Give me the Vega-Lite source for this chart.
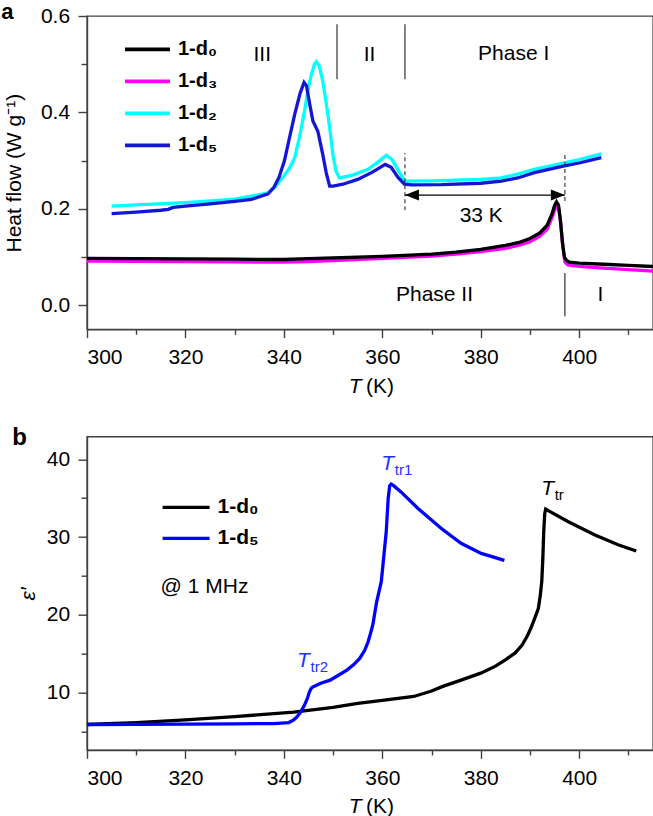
{
  "$schema": "https://vega.github.io/schema/vega-lite/v6.json",
  "padding": {"left": 0, "top": 0, "right": 0, "bottom": 0},
  "bounds": "flush",
  "spacing": 106.7,
  "config": {
    "font": "Liberation Sans",
    "view": {"stroke": "#404040", "strokeWidth": 1.4},
    "axis": {"domainColor": "#404040", "domainWidth": 1.4, "tickColor": "#404040", "tickWidth": 1.4, "labelFontSize": 21, "labelColor": "#000000", "labelFont": "Liberation Sans", "titleFont": "Liberation Sans", "titleFontSize": 21, "titleFontWeight": "normal", "titleColor": "#000000", "grid": false, "labelPadding": 8.4}
  },
  "resolve": {"scale": {"color": "independent", "y": "independent", "x": "independent"}, "legend": {"color": "independent"}},
  "datasets": {
    "dsc": [
      {"T":300,"v":0.0914,"s":"1-d₃"},{"T":310,"v":0.091,"s":"1-d₃"},{"T":320,"v":0.0905,"s":"1-d₃"},{"T":330,"v":0.0898,"s":"1-d₃"},{"T":340,"v":0.0893,"s":"1-d₃"},{"T":345,"v":0.0905,"s":"1-d₃"},{"T":350,"v":0.0925,"s":"1-d₃"},{"T":360,"v":0.097,"s":"1-d₃"},{"T":370,"v":0.102,"s":"1-d₃"},{"T":375,"v":0.106,"s":"1-d₃"},{"T":380,"v":0.111,"s":"1-d₃"},{"T":385,"v":0.118,"s":"1-d₃"},{"T":388,"v":0.125,"s":"1-d₃"},{"T":390,"v":0.1315,"s":"1-d₃"},{"T":392,"v":0.143,"s":"1-d₃"},{"T":393.5,"v":0.158,"s":"1-d₃"},{"T":394.5,"v":0.182,"s":"1-d₃"},{"T":395,"v":0.197,"s":"1-d₃"},{"T":395.5,"v":0.2056,"s":"1-d₃"},{"T":395.9,"v":0.198,"s":"1-d₃"},{"T":396.3,"v":0.165,"s":"1-d₃"},{"T":396.7,"v":0.12,"s":"1-d₃"},{"T":397.1,"v":0.09,"s":"1-d₃"},{"T":397.6,"v":0.0845,"s":"1-d₃"},{"T":398,"v":0.083,"s":"1-d₃"},{"T":400,"v":0.0805,"s":"1-d₃"},{"T":405,"v":0.077,"s":"1-d₃"},{"T":410,"v":0.0738,"s":"1-d₃"},{"T":415,"v":0.0706,"s":"1-d₃"},
      {"T":300,"v":0.097,"s":"1-d₀"},{"T":310,"v":0.0965,"s":"1-d₀"},{"T":320,"v":0.096,"s":"1-d₀"},{"T":330,"v":0.0955,"s":"1-d₀"},{"T":340,"v":0.0948,"s":"1-d₀"},{"T":345,"v":0.0965,"s":"1-d₀"},{"T":350,"v":0.098,"s":"1-d₀"},{"T":360,"v":0.1015,"s":"1-d₀"},{"T":370,"v":0.106,"s":"1-d₀"},{"T":375,"v":0.11,"s":"1-d₀"},{"T":380,"v":0.1157,"s":"1-d₀"},{"T":385,"v":0.124,"s":"1-d₀"},{"T":388,"v":0.131,"s":"1-d₀"},{"T":390,"v":0.1385,"s":"1-d₀"},{"T":392,"v":0.15,"s":"1-d₀"},{"T":393.5,"v":0.166,"s":"1-d₀"},{"T":394.5,"v":0.19,"s":"1-d₀"},{"T":395,"v":0.207,"s":"1-d₀"},{"T":395.4,"v":0.2145,"s":"1-d₀"},{"T":395.8,"v":0.208,"s":"1-d₀"},{"T":396.2,"v":0.175,"s":"1-d₀"},{"T":396.6,"v":0.13,"s":"1-d₀"},{"T":397,"v":0.1,"s":"1-d₀"},{"T":397.5,"v":0.092,"s":"1-d₀"},{"T":398,"v":0.0895,"s":"1-d₀"},{"T":400,"v":0.0875,"s":"1-d₀"},{"T":405,"v":0.085,"s":"1-d₀"},{"T":410,"v":0.0825,"s":"1-d₀"},{"T":415,"v":0.0803,"s":"1-d₀"},
      {"T":305,"v":0.2055,"s":"1-d₂"},{"T":310,"v":0.208,"s":"1-d₂"},{"T":320,"v":0.213,"s":"1-d₂"},{"T":330,"v":0.22,"s":"1-d₂"},{"T":333.4,"v":0.2263,"s":"1-d₂"},{"T":336.8,"v":0.233,"s":"1-d₂"},{"T":338.1,"v":0.244,"s":"1-d₂"},{"T":340,"v":0.268,"s":"1-d₂"},{"T":341.2,"v":0.285,"s":"1-d₂"},{"T":342.2,"v":0.306,"s":"1-d₂"},{"T":343.2,"v":0.35,"s":"1-d₂"},{"T":344.2,"v":0.403,"s":"1-d₂"},{"T":345,"v":0.452,"s":"1-d₂"},{"T":345.6,"v":0.479,"s":"1-d₂"},{"T":346.2,"v":0.5,"s":"1-d₂"},{"T":346.6,"v":0.505,"s":"1-d₂"},{"T":347.2,"v":0.496,"s":"1-d₂"},{"T":347.9,"v":0.465,"s":"1-d₂"},{"T":348.6,"v":0.42,"s":"1-d₂"},{"T":349.3,"v":0.368,"s":"1-d₂"},{"T":350,"v":0.31,"s":"1-d₂"},{"T":350.6,"v":0.278,"s":"1-d₂"},{"T":351.3,"v":0.264,"s":"1-d₂"},{"T":354,"v":0.27,"s":"1-d₂"},{"T":357.1,"v":0.282,"s":"1-d₂"},{"T":359.5,"v":0.3,"s":"1-d₂"},{"T":360.8,"v":0.311,"s":"1-d₂"},{"T":362,"v":0.302,"s":"1-d₂"},{"T":363.5,"v":0.275,"s":"1-d₂"},{"T":364.6,"v":0.2575,"s":"1-d₂"},{"T":370,"v":0.258,"s":"1-d₂"},{"T":380,"v":0.261,"s":"1-d₂"},{"T":384.2,"v":0.264,"s":"1-d₂"},{"T":387.5,"v":0.272,"s":"1-d₂"},{"T":390.9,"v":0.282,"s":"1-d₂"},{"T":397,"v":0.2955,"s":"1-d₂"},{"T":400,"v":0.302,"s":"1-d₂"},{"T":404.5,"v":0.314,"s":"1-d₂"},
      {"T":305,"v":0.19,"s":"1-d₅"},{"T":310,"v":0.193,"s":"1-d₅"},{"T":315,"v":0.197,"s":"1-d₅"},{"T":316.5,"v":0.199,"s":"1-d₅"},{"T":317.5,"v":0.203,"s":"1-d₅"},{"T":320,"v":0.2055,"s":"1-d₅"},{"T":325,"v":0.21,"s":"1-d₅"},{"T":330,"v":0.2155,"s":"1-d₅"},{"T":333.4,"v":0.2195,"s":"1-d₅"},{"T":336.8,"v":0.231,"s":"1-d₅"},{"T":338,"v":0.245,"s":"1-d₅"},{"T":339,"v":0.265,"s":"1-d₅"},{"T":340.1,"v":0.299,"s":"1-d₅"},{"T":341.2,"v":0.35,"s":"1-d₅"},{"T":342.2,"v":0.396,"s":"1-d₅"},{"T":343.3,"v":0.44,"s":"1-d₅"},{"T":344.1,"v":0.462,"s":"1-d₅"},{"T":344.6,"v":0.455,"s":"1-d₅"},{"T":345.2,"v":0.42,"s":"1-d₅"},{"T":345.9,"v":0.382,"s":"1-d₅"},{"T":346.9,"v":0.361,"s":"1-d₅"},{"T":347.9,"v":0.313,"s":"1-d₅"},{"T":348.6,"v":0.275,"s":"1-d₅"},{"T":349.3,"v":0.247,"s":"1-d₅"},{"T":350,"v":0.247,"s":"1-d₅"},{"T":352,"v":0.251,"s":"1-d₅"},{"T":355,"v":0.261,"s":"1-d₅"},{"T":358,"v":0.276,"s":"1-d₅"},{"T":360.6,"v":0.292,"s":"1-d₅"},{"T":361.8,"v":0.286,"s":"1-d₅"},{"T":363.2,"v":0.265,"s":"1-d₅"},{"T":364.5,"v":0.251,"s":"1-d₅"},{"T":366,"v":0.2495,"s":"1-d₅"},{"T":372,"v":0.25,"s":"1-d₅"},{"T":380,"v":0.253,"s":"1-d₅"},{"T":384.2,"v":0.2575,"s":"1-d₅"},{"T":387.5,"v":0.264,"s":"1-d₅"},{"T":390.9,"v":0.275,"s":"1-d₅"},{"T":397,"v":0.289,"s":"1-d₅"},{"T":400,"v":0.295,"s":"1-d₅"},{"T":404.5,"v":0.306,"s":"1-d₅"}
    ],
    "diel": [
      {"T":300,"v":5.9,"s":"1-d₀"},{"T":310,"v":6.15,"s":"1-d₀"},{"T":320,"v":6.5,"s":"1-d₀"},{"T":330,"v":6.9,"s":"1-d₀"},{"T":342,"v":7.5,"s":"1-d₀"},{"T":350,"v":8.1,"s":"1-d₀"},{"T":355,"v":8.6,"s":"1-d₀"},{"T":360,"v":9.0,"s":"1-d₀"},{"T":366.4,"v":9.5,"s":"1-d₀"},{"T":370,"v":10.2,"s":"1-d₀"},{"T":372.3,"v":10.8,"s":"1-d₀"},{"T":376,"v":11.6,"s":"1-d₀"},{"T":380,"v":12.5,"s":"1-d₀"},{"T":383,"v":13.4,"s":"1-d₀"},{"T":385,"v":14.2,"s":"1-d₀"},{"T":387,"v":15.1,"s":"1-d₀"},{"T":388.4,"v":16.1,"s":"1-d₀"},{"T":389.4,"v":17.2,"s":"1-d₀"},{"T":390.2,"v":18.3,"s":"1-d₀"},{"T":391,"v":19.6,"s":"1-d₀"},{"T":391.7,"v":20.8,"s":"1-d₀"},{"T":392.1,"v":22.5,"s":"1-d₀"},{"T":392.4,"v":24.3,"s":"1-d₀"},{"T":392.6,"v":27,"s":"1-d₀"},{"T":392.8,"v":30.7,"s":"1-d₀"},{"T":393,"v":33.0,"s":"1-d₀"},{"T":393.2,"v":33.6,"s":"1-d₀"},{"T":394,"v":33.3,"s":"1-d₀"},{"T":397.7,"v":32.0,"s":"1-d₀"},{"T":403.1,"v":30.3,"s":"1-d₀"},{"T":407.9,"v":29.0,"s":"1-d₀"},{"T":411.6,"v":28.2,"s":"1-d₀"},
      {"T":300,"v":5.9,"s":"1-d₅"},{"T":310,"v":5.92,"s":"1-d₅"},{"T":320,"v":5.95,"s":"1-d₅"},{"T":330,"v":5.98,"s":"1-d₅"},{"T":338,"v":6.02,"s":"1-d₅"},{"T":341,"v":6.15,"s":"1-d₅"},{"T":342,"v":6.5,"s":"1-d₅"},{"T":342.7,"v":6.9,"s":"1-d₅"},{"T":343.5,"v":7.6,"s":"1-d₅"},{"T":344.2,"v":8.4,"s":"1-d₅"},{"T":344.8,"v":9.3,"s":"1-d₅"},{"T":345.2,"v":10.1,"s":"1-d₅"},{"T":345.6,"v":10.6,"s":"1-d₅"},{"T":346.1,"v":10.8,"s":"1-d₅"},{"T":347.5,"v":11.2,"s":"1-d₅"},{"T":349.4,"v":11.6,"s":"1-d₅"},{"T":351,"v":12.2,"s":"1-d₅"},{"T":352.8,"v":12.9,"s":"1-d₅"},{"T":354.2,"v":13.6,"s":"1-d₅"},{"T":355.4,"v":14.4,"s":"1-d₅"},{"T":356.4,"v":15.4,"s":"1-d₅"},{"T":357.1,"v":16.5,"s":"1-d₅"},{"T":357.6,"v":17.6,"s":"1-d₅"},{"T":358.1,"v":18.8,"s":"1-d₅"},{"T":358.8,"v":21.5,"s":"1-d₅"},{"T":359.8,"v":24.3,"s":"1-d₅"},{"T":360.3,"v":27.5,"s":"1-d₅"},{"T":360.8,"v":30.7,"s":"1-d₅"},{"T":361.2,"v":35.0,"s":"1-d₅"},{"T":361.5,"v":36.6,"s":"1-d₅"},{"T":361.8,"v":36.8,"s":"1-d₅"},{"T":362.3,"v":36.6,"s":"1-d₅"},{"T":363.8,"v":35.8,"s":"1-d₅"},{"T":367.2,"v":33.7,"s":"1-d₅"},{"T":372,"v":31.1,"s":"1-d₅"},{"T":376,"v":29.2,"s":"1-d₅"},{"T":380.1,"v":27.9,"s":"1-d₅"},{"T":384.8,"v":27.0,"s":"1-d₅"}
    ],
    "blueLabels": [{"T":359.78,"v":38.62,"sub":"tr1"},{"T":342.68,"v":13.34,"sub":"tr2"}],
    "blackLabels": [{"T":392.28,"v":35.41,"sub":"tr"}]
  },
  "vconcat": [
    {
      "width": 566,
      "height": 313.3,
      "encoding": {
        "x": {"field": "T", "type": "quantitative", "scale": {"domain": [300, 415], "nice": false, "zero": false},
          "axis": {"title": null, "values": [300,310,320,330,340,350,360,370,380,390,400,410], "labelExpr": "datum.value % 20 === 0 ? datum.label : ''", "tickSize": {"condition": {"test": "datum.value % 20 === 0", "value": 8.3}, "value": 5}, "labelPadding": 9}},
        "y": {"field": "v", "type": "quantitative", "scale": {"domain": [-0.05, 0.6], "nice": false, "zero": false},
          "axis": {"title": "Heat flow (W g⁻¹)", "values": [0,0.1,0.2,0.3,0.4,0.5,0.6], "format": ".1f", "labelExpr": "round(datum.value*10) % 2 === 0 ? datum.label : ''", "tickSize": {"condition": {"test": "round(datum.value*10) % 2 === 0", "value": 9}, "value": 6}, "titlePadding": 16.4}}
      },
      "layer": [
        {
          "data": {"name": "dsc"},
          "mark": {"type": "line", "strokeWidth": 3.3},
          "encoding": {
            "color": {"field": "s", "type": "nominal",
              "scale": {"domain": ["1-d₀","1-d₃","1-d₂","1-d₅"], "range": ["#000000","#ff00ff","#00ffff","#1515d5"]},
              "legend": {"orient": "none", "legendX": 36, "legendY": 17.5, "title": null, "symbolType": "stroke", "symbolSize": 2025, "symbolStrokeWidth": 3.6, "labelFontSize": 20, "labelFontWeight": "bold", "labelColor": "#000000", "labelFont": "Liberation Sans", "clipHeight": 31.7, "rowPadding": 0, "labelOffset": 6, "padding": 0, "labelLimit": 300}}
          }
        },
        {
          "data": {"values": [{"T":335.6,"v":0.52,"label":"III"},{"T":357.4,"v":0.52,"label":"II"},{"T":386.7,"v":0.522,"label":"Phase I"},{"T":380.1,"v":0.185,"label":"33 K"},{"T":370.6,"v":0.022,"label":"Phase II"},{"T":404.3,"v":0.022,"label":"I"}]},
          "mark": {"type": "text", "fontSize": 21, "align": "center", "baseline": "middle", "color": "#000000"},
          "encoding": {"text": {"field": "label"}}
        },
        {
          "data": {"values": [{"T":350.8,"v":0.469,"v2":0.583},{"T":364.6,"v":0.469,"v2":0.583},{"T":397.1,"v":-0.023,"v2":0.067}]},
          "mark": {"type": "rule", "strokeWidth": 1.2, "color": "#303030"},
          "encoding": {"y2": {"field": "v2"}}
        },
        {
          "data": {"values": [{"T":364.6,"v":0.197,"v2":0.316},{"T":397.1,"v":0.216,"v2":0.316}]},
          "mark": {"type": "rule", "strokeWidth": 1.1, "color": "#303030", "strokeDash": [4, 3]},
          "encoding": {"y2": {"field": "v2"}}
        },
        {
          "data": {"values": [{"T":364.6,"T2":397.1,"v":0.2284}]},
          "mark": {"type": "rule", "strokeWidth": 1.4, "color": "#000000"},
          "encoding": {"x2": {"field": "T2"}}
        },
        {
          "data": {"values": [{"T":364.6,"v":0.2284}]},
          "mark": {"type": "point", "shape": "M0,0L2.8,-1.1L2.8,1.1Z", "size": 100, "filled": true, "color": "#000000", "opacity": 1, "strokeWidth": 0},
          "encoding": {}
        },
        {
          "data": {"values": [{"T":397.1,"v":0.2284}]},
          "mark": {"type": "point", "shape": "M0,0L-2.8,-1.1L-2.8,1.1Z", "size": 100, "filled": true, "color": "#000000", "opacity": 1, "strokeWidth": 0},
          "encoding": {}
        },
        {
          "data": {"values": [{"T":282.59,"v":0.5938}]},
          "mark": {"type": "text", "text": "a", "fontSize": 22, "fontWeight": "bold", "align": "left", "baseline": "alphabetic", "color": "#000000"},
          "encoding": {}
        },
        {
          "data": {"values": [{"T":356.2,"v":-0.17}]},
          "mark": {"type": "text", "text": "T", "fontSize": 21, "fontStyle": "italic", "align": "right", "baseline": "middle", "dx": -2, "color": "#000000"},
          "encoding": {}
        },
        {
          "data": {"values": [{"T":356.2,"v":-0.17}]},
          "mark": {"type": "text", "text": "(K)", "fontSize": 21, "align": "left", "baseline": "middle", "dx": 2.5, "color": "#000000"},
          "encoding": {}
        }
      ]
    },
    {
      "width": 566,
      "height": 313.3,
      "encoding": {
        "x": {"field": "T", "type": "quantitative", "scale": {"domain": [300, 415], "nice": false, "zero": false},
          "axis": {"title": null, "values": [300,310,320,330,340,350,360,370,380,390,400,410], "labelExpr": "datum.value % 20 === 0 ? datum.label : ''", "tickSize": {"condition": {"test": "datum.value % 20 === 0", "value": 8.3}, "value": 5}, "labelPadding": 9}},
        "y": {"field": "v", "type": "quantitative", "scale": {"domain": [2.62, 42.9], "nice": false, "zero": false},
          "axis": {"title": "ε′", "titleFontStyle": "italic", "values": [5,10,15,20,25,30,35,40], "labelExpr": "datum.value % 10 === 0 ? datum.label : ''", "tickSize": {"condition": {"test": "datum.value % 10 === 0", "value": 9}, "value": 6}, "titlePadding": 7.5}}
      },
      "layer": [
        {
          "data": {"name": "diel"},
          "mark": {"type": "line", "strokeWidth": 3.3},
          "encoding": {
            "color": {"field": "s", "type": "nominal",
              "scale": {"domain": ["1-d₀","1-d₅"], "range": ["#000000","#0000ff"]},
              "legend": {"orient": "none", "legendX": 73.6, "legendY": 55.2, "title": "@ 1 MHz", "titleOrient": "bottom", "titleAnchor": "start", "titleFontSize": 21, "titleFontWeight": "normal", "titleFont": "Liberation Sans", "titleColor": "#000000", "titlePadding": 22, "symbolType": "stroke", "symbolSize": 2209, "symbolStrokeWidth": 3.4, "labelFontSize": 21, "labelFontWeight": "bold", "labelColor": "#000000", "labelFont": "Liberation Sans", "clipHeight": 31, "rowPadding": 0, "labelOffset": 6, "padding": 0, "labelLimit": 300}}
          }
        },
        {
          "data": {"name": "blueLabels"},
          "mark": {"type": "text", "text": "T", "fontSize": 21, "fontStyle": "italic", "align": "left", "baseline": "alphabetic", "color": "#1a33ff"},
          "encoding": {}
        },
        {
          "data": {"name": "blueLabels"},
          "mark": {"type": "text", "fontSize": 15, "align": "left", "baseline": "alphabetic", "dx": 13.5, "dy": 5, "color": "#1a33ff"},
          "encoding": {"text": {"field": "sub"}}
        },
        {
          "data": {"name": "blackLabels"},
          "mark": {"type": "text", "text": "T", "fontSize": 21, "fontStyle": "italic", "align": "left", "baseline": "alphabetic", "color": "#000000"},
          "encoding": {}
        },
        {
          "data": {"name": "blackLabels"},
          "mark": {"type": "text", "fontSize": 15, "align": "left", "baseline": "alphabetic", "dx": 13.5, "dy": 5, "color": "#000000"},
          "encoding": {"text": {"field": "sub"}}
        },
        {
          "data": {"values": [{"T":284.83,"v":41.87}]},
          "mark": {"type": "text", "text": "b", "fontSize": 24, "fontWeight": "bold", "align": "left", "baseline": "alphabetic", "color": "#000000"},
          "encoding": {}
        },
        {
          "data": {"values": [{"T":356.2,"v":-4.67}]},
          "mark": {"type": "text", "text": "T", "fontSize": 21, "fontStyle": "italic", "align": "right", "baseline": "middle", "dx": -2, "color": "#000000"},
          "encoding": {}
        },
        {
          "data": {"values": [{"T":356.2,"v":-4.67}]},
          "mark": {"type": "text", "text": "(K)", "fontSize": 21, "align": "left", "baseline": "middle", "dx": 2.5, "color": "#000000"},
          "encoding": {}
        }
      ]
    }
  ]
}
